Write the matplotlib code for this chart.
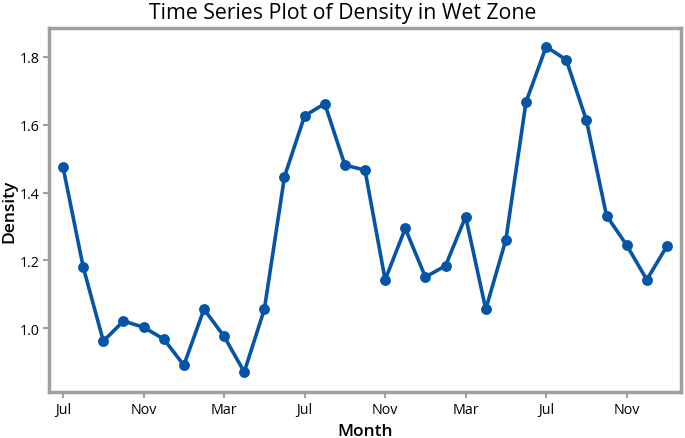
import matplotlib

matplotlib.use("Agg")
import matplotlib.pyplot as plt

plt.rcParams["font.family"] = ["Open Sans", "DejaVu Sans"]

months = ["Jul", "Aug", "Sep", "Oct", "Nov", "Dec", "Jan", "Feb", "Mar", "Apr", "May", "Jun"]
density = [1.474, 1.180, 0.962, 1.021, 1.003, 0.968, 0.891, 1.056, 0.976, 0.871,
           1.056, 1.447, 1.626, 1.662, 1.481, 1.466, 1.143, 1.294, 1.151, 1.184,
           1.329, 1.056, 1.261, 1.667, 1.830, 1.791, 1.613, 1.332, 1.245, 1.143, 1.242]
tick_idx = [0, 4, 8, 12, 16, 20, 24, 28]
tick_labels = [months[i % 12] for i in tick_idx]
y_ticks = [1.0, 1.2, 1.4, 1.6, 1.8]

BLUE = "#0654a6"
FRAME = "#a0a0a0"

fig = plt.figure(figsize=(6.85, 4.39), dpi=100)
ax = fig.add_axes([49 / 685, 46 / 439, 632 / 685, 364 / 439])

x = list(range(len(density)))
ax.plot(x, density, color=BLUE, linewidth=2.6, marker="o", markersize=6.8, zorder=3)

ax.set_xlim(-0.7, 30.7)
ax.set_ylim(0.812, 1.885)
ax.set_xticks(tick_idx)
ax.set_xticklabels(tick_labels)
ax.set_yticks(y_ticks)
ax.set_yticklabels([f"{v:.1f}" for v in y_ticks])

for s in ax.spines.values():
    s.set_color(FRAME)
    s.set_linewidth(2.5)
ax.tick_params(axis="both", colors=FRAME, labelcolor="black", labelsize=10.3,
               length=4, width=1.5, direction="out", pad=3)

ax.set_xlabel("Month", fontsize=12.5, fontweight="semibold")
ax.xaxis.set_label_coords(0.5, -0.085)
ax.set_ylabel("Density", fontsize=12.5, fontweight="semibold")
ax.yaxis.set_label_coords(-0.05, 0.5)
fig.text(0.5, 1 - 13 / 439, "Time Series Plot of Density in Wet Zone",
         fontsize=15.3, ha="center", va="center")

fig.savefig("out.png", dpi=100)
